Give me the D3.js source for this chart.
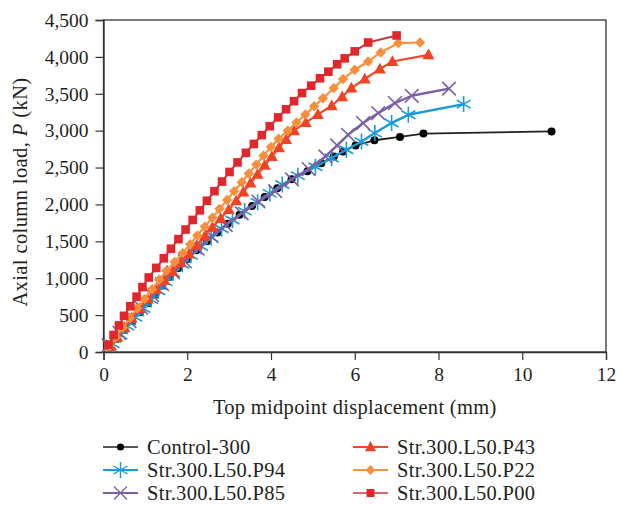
<!DOCTYPE html>
<html>
<head>
<meta charset="utf-8">
<script src="https://cdn.jsdelivr.net/npm/d3@7"></script>
<style>
  body { margin: 0; background: #fff; }
  svg { display: block; font-family: "Liberation Serif", "DejaVu Serif", serif; }
</style>
</head>
<body>
<div id="chart"></div>
<script>
// axis ticks
const xTicks = [0, 2, 4, 6, 8, 10, 12];
const yTicks = [0, 500, 1000, 1500, 2000, 2500, 3000, 3500, 4000, 4500];

// Control-300
const controlX = [0.16, 0.32, 0.5, 0.68, 0.87, 1.06, 1.24, 1.4, 1.58, 1.79, 2.0, 2.22, 2.47, 2.72, 2.97, 3.25, 3.55, 3.85, 4.15, 4.49, 4.87, 5.2, 5.5, 5.72, 6.02, 6.47, 7.08, 7.64, 10.7];
const controlY = [70, 180, 300, 420, 540, 660, 780, 900, 1020, 1140, 1260, 1380, 1500, 1620, 1740, 1860, 1980, 2100, 2220, 2340, 2450, 2560, 2650, 2718, 2800, 2870, 2915, 2960, 2990];

// Str.300.L50.P94
const p94X = [0.22, 0.4, 0.57, 0.76, 0.95, 1.14, 1.31, 1.48, 1.66, 1.88, 2.09, 2.33, 2.57, 2.82, 3.08, 3.37, 3.68, 3.97, 4.27, 4.64, 5.06, 5.45, 5.8, 6.16, 6.48, 6.88, 7.28, 8.6];
const p94Y = [110, 230, 350, 470, 590, 710, 830, 950, 1070, 1190, 1310, 1430, 1550, 1670, 1790, 1910, 2030, 2150, 2270, 2390, 2510, 2630, 2741, 2854, 2967, 3103, 3216, 3360];

// Str.300.L50.P85
const p85X = [0.12, 0.38, 0.62, 0.9, 1.16, 1.4, 1.66, 1.94, 2.25, 2.58, 2.92, 3.3, 3.7, 4.1, 4.5, 4.9, 5.3, 5.58, 5.84, 6.2, 6.56, 6.96, 7.36, 8.25];
const p85Y = [90, 260, 420, 600, 770, 920, 1080, 1230, 1400, 1570, 1720, 1880, 2040, 2180, 2340, 2480, 2650, 2800, 2944, 3103, 3238, 3374, 3473, 3570];

// Str.300.L50.P43
const p43X = [0.18, 0.33, 0.5, 0.67, 0.86, 1.06, 1.26, 1.45, 1.65, 1.84, 2.04, 2.23, 2.42, 2.6, 2.8, 2.99, 3.17, 3.34, 3.51, 3.68, 3.85, 4.02, 4.19, 4.36, 4.55, 4.83, 5.12, 5.45, 5.7, 5.92, 6.24, 6.6, 6.9, 7.76];
const p43Y = [80, 200, 330, 460, 590, 720, 850, 970, 1090, 1210, 1330, 1450, 1570, 1690, 1810, 1930, 2050, 2170, 2290, 2410, 2530, 2650, 2770, 2880, 3000, 3110, 3220, 3338, 3460, 3577, 3700, 3835, 3938, 4028];

// Str.300.L50.P22
const p22X = [0.15, 0.3, 0.46, 0.63, 0.8, 0.98, 1.16, 1.33, 1.5, 1.7, 1.89, 2.07, 2.24, 2.42, 2.6, 2.77, 2.95, 3.12, 3.3, 3.47, 3.65, 3.82, 4.0, 4.18, 4.4, 4.61, 4.82, 5.03, 5.24, 5.5, 5.72, 6.0, 6.32, 6.62, 7.04, 7.56];
const p22Y = [80, 200, 330, 460, 590, 720, 850, 980, 1100, 1220, 1340, 1460, 1580, 1700, 1820, 1940, 2060, 2180, 2300, 2420, 2540, 2660, 2780, 2890, 3000, 3110, 3220, 3330, 3440, 3577, 3700, 3825, 3938, 4060, 4187, 4195];

// Str.300.L50.P00
const p00X = [0.12, 0.24, 0.37, 0.49, 0.64, 0.79, 0.93, 1.08, 1.26, 1.44, 1.61, 1.79, 1.96, 2.13, 2.3, 2.47, 2.65, 2.83, 3.01, 3.2, 3.4, 3.59, 3.78, 3.97, 4.17, 4.36, 4.55, 4.74, 4.96, 5.17, 5.37, 5.58, 5.76, 6.0, 6.32, 7.0];
const p00Y = [100, 230, 360, 490, 620, 750, 880, 1010, 1140, 1270, 1400, 1530, 1660, 1790, 1920, 2050, 2180, 2310, 2440, 2570, 2700, 2820, 2940, 3060, 3180, 3290, 3400, 3510, 3610, 3710, 3800, 3900, 3980, 4075, 4195, 4290];

const seriesNames = ['Control-300', 'Str.300.L50.P94', 'Str.300.L50.P85', 'Str.300.L50.P43', 'Str.300.L50.P22', 'Str.300.L50.P00'];

const series = [
  { name: seriesNames[0], xs: controlX, ys: controlY, line: '#231f20', fill: '#000000', marker: 'circle', lw: 1.8 },
  { name: seriesNames[1], xs: p94X, ys: p94Y, line: '#1a9ad6', fill: '#1a9ad6', marker: 'asterisk', lw: 2.4 },
  { name: seriesNames[2], xs: p85X, ys: p85Y, line: '#7b5fa6', fill: '#7b5fa6', marker: 'cross', lw: 2.4 },
  { name: seriesNames[3], xs: p43X, ys: p43Y, line: '#f0492a', fill: '#f04323', marker: 'triangle', lw: 2.2 },
  { name: seriesNames[4], xs: p22X, ys: p22Y, line: '#f7923f', fill: '#f78f3c', marker: 'diamond', lw: 2.2 },
  { name: seriesNames[5], xs: p00X, ys: p00Y, line: '#c0393b', fill: '#e2272c', marker: 'square', lw: 2.0 }
];

const width = 622, height = 505;
const margin = { top: 20, right: 16, bottom: 153, left: 103.5 };
const textColor = '#231f20';

const svg = d3.select('#chart')
  .append('svg')
  .attr('width', width)
  .attr('height', height);

const x = d3.scaleLinear().domain([0, 12]).range([margin.left, width - margin.right]);
const y = d3.scaleLinear().domain([0, 4500]).range([height - margin.bottom, margin.top]);

// plot frame
svg.append('rect')
  .attr('x', x(0)).attr('y', y(4500))
  .attr('width', x(12) - x(0)).attr('height', y(0) - y(4500))
  .attr('fill', 'none').attr('stroke', '#333').attr('stroke-width', 1.3);

const xAxis = svg.append('g')
  .attr('transform', `translate(0,${y(0)})`)
  .call(d3.axisBottom(x).tickValues(xTicks).tickSize(8).tickPadding(7).tickFormat(d3.format('d')));
xAxis.select('.domain').attr('stroke', '#333').attr('stroke-width', 1.3);
xAxis.selectAll('.tick line').attr('stroke', '#333').attr('stroke-width', 1.2);
xAxis.selectAll('text').attr('font-size', 19.5).attr('fill', textColor).style('font-family', '"Liberation Serif", serif');

const yAxis = svg.append('g')
  .attr('transform', `translate(${x(0)},0)`)
  .call(d3.axisLeft(y).tickValues(yTicks).tickSize(8).tickPadding(7).tickFormat(d3.format(',')));
yAxis.select('.domain').attr('stroke', '#333').attr('stroke-width', 1.3);
yAxis.selectAll('.tick line').attr('stroke', '#333').attr('stroke-width', 1.2);
yAxis.selectAll('text').attr('font-size', 19.5).attr('fill', textColor).style('font-family', '"Liberation Serif", serif');

// axis titles
svg.append('text')
  .attr('x', (x(0) + x(12)) / 2)
  .attr('y', 414)
  .attr('text-anchor', 'middle')
  .attr('font-size', 20.5)
  .attr('letter-spacing', 0.3)
  .attr('fill', textColor)
  .text('Top midpoint displacement (mm)');

const yTitle = svg.append('text')
  .attr('transform', `translate(27,${(y(0) + y(4500)) / 2 + 6}) rotate(-90)`)
  .attr('text-anchor', 'middle')
  .attr('font-size', 20.5)
  .attr('letter-spacing', 0.4)
  .attr('fill', textColor);
yTitle.append('tspan').text('Axial column load, ');
yTitle.append('tspan').attr('font-style', 'italic').text('P');
yTitle.append('tspan').text(' (kN)');

function markerPath(type, s) {
  if (type === 'circle') return d3.symbol(d3.symbolCircle, Math.PI * s * s)();
  if (type === 'square') return `M${-s},${-s}H${s}V${s}H${-s}Z`;
  if (type === 'diamond') return `M0,${-s}L${s},0L0,${s}L${-s},0Z`;
  if (type === 'triangle') return `M0,${-s * 1.05}L${s},${s * 0.75}L${-s},${s * 0.75}Z`;
  if (type === 'asterisk') {
    const a = s * 0.87, b = s * 0.5;
    return `M0,${-s}L0,${s}M${-a},${-b}L${a},${b}M${-a},${b}L${a},${-b}`;
  }
  if (type === 'cross') return `M${-s},${-s}L${s},${s}M${-s},${s}L${s},${-s}`;
  return '';
}

const markerSize = { circle: 4, square: 4.3, diamond: 5.2, triangle: 6, asterisk: 8, cross: 6.8 };

const line = d3.line().x((d) => x(d[0])).y((d) => y(d[1]));

const plot = svg.append('g');

series.forEach((s) => {
  const pts = s.xs.map((v, i) => [v, s.ys[i]]);
  const g = plot.append('g');
  g.append('path')
    .datum(pts)
    .attr('d', line)
    .attr('fill', 'none')
    .attr('stroke', s.line)
    .attr('stroke-width', s.lw)
    .attr('stroke-linejoin', 'round');
  const stroked = s.marker === 'asterisk' || s.marker === 'cross';
  g.selectAll('.m')
    .data(pts)
    .enter()
    .append('path')
    .attr('transform', (d) => `translate(${x(d[0])},${y(d[1])})`)
    .attr('d', markerPath(s.marker, markerSize[s.marker]))
    .attr('fill', stroked ? 'none' : s.fill)
    .attr('stroke', stroked ? s.fill : 'none')
    .attr('stroke-width', stroked ? 1.6 : 0);
});

// legend
const legendCols = [103, 353];
const legendRows = [447, 470, 493];
const legendPlace = [[0, 0], [0, 1], [0, 2], [1, 0], [1, 1], [1, 2]];
const legendMarker = { circle: 3.6, square: 4, diamond: 5, triangle: 5.6, asterisk: 8, cross: 6.5 };
const legend = svg.append('g');
series.forEach((s, i) => {
  const [col, row] = legendPlace[i];
  const lx = legendCols[col], ly = legendRows[row];
  const item = legend.append('g');
  item.append('line')
    .attr('x1', lx).attr('x2', lx + 35)
    .attr('y1', ly).attr('y2', ly)
    .attr('stroke', s.line).attr('stroke-width', s.lw - 0.4);
  const stroked = s.marker === 'asterisk' || s.marker === 'cross';
  item.append('path')
    .attr('transform', `translate(${lx + 17.5},${ly})`)
    .attr('d', markerPath(s.marker, legendMarker[s.marker]))
    .attr('fill', stroked ? 'none' : s.fill)
    .attr('stroke', stroked ? s.fill : 'none')
    .attr('stroke-width', stroked ? 1.4 : 0);
  item.append('text')
    .attr('x', lx + 44)
    .attr('y', ly + 6.5)
    .attr('font-size', 20.5)
    .attr('letter-spacing', 0.3)
    .attr('fill', textColor)
    .text(s.name);
});
</script>
</body>
</html>
